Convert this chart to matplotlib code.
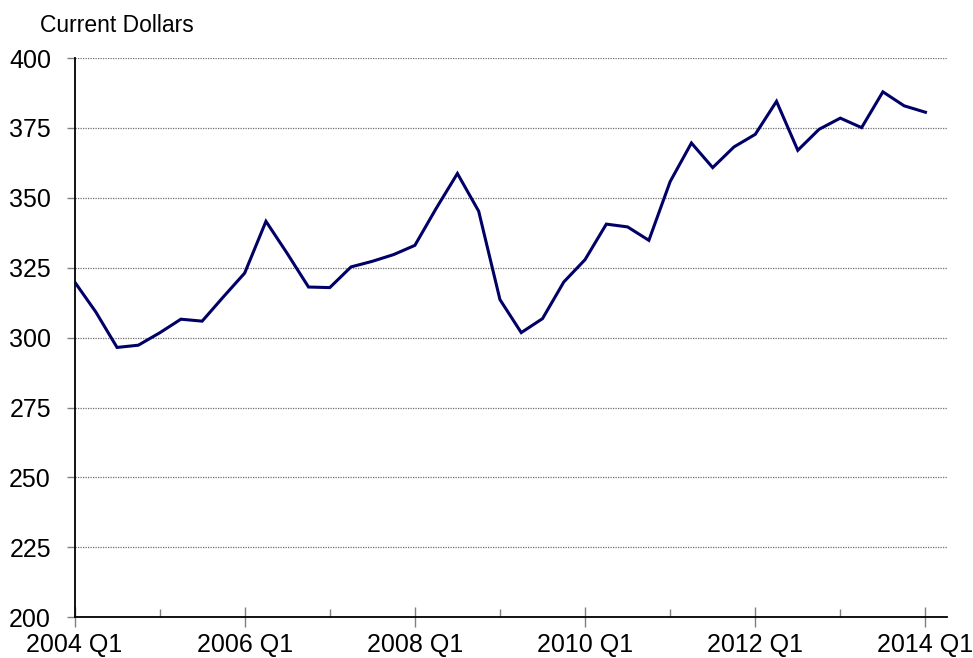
import numpy as np
import matplotlib
matplotlib.use('Agg')
import matplotlib.pyplot as plt
from matplotlib.ticker import MultipleLocator

plt.rcParams['font.family'] = ['Liberation Sans', 'DejaVu Sans']

# quarterly values, 2004 Q1 .. 2014 Q1
quarters = [f'{y} Q{q}' for y in range(2004, 2015) for q in range(1, 5)][:41]
values = [320.0, 309.2, 296.5, 297.3, 301.7, 306.6, 305.9, 314.6, 323.1, 341.6,
          330.1, 318.1, 317.9, 325.3, 327.3, 329.7, 333.0, 346.2, 358.7, 345.2,
          313.6, 301.8, 306.8, 319.9, 327.9, 340.6, 339.6, 334.8, 355.8, 369.6,
          360.8, 368.2, 372.7, 384.5, 367.0, 374.5, 378.5, 375.1, 387.9, 382.9,
          380.6]
yticks = [200, 225, 250, 275, 300, 325, 350, 375, 400]

fig = plt.figure(figsize=(9.73, 6.58), dpi=100)
ax = fig.add_axes([74.5/973, 1-617.3/658, (946.7-74.5)/973, (617.3-58)/658])

x = np.arange(len(values))
ax.plot(x, values, color='#000066', lw=2.2, solid_joinstyle='miter', zorder=3)

ax.set_xlim(0, 41)
ax.set_ylim(200, 400)
ax.set_yticks(yticks)
ax.yaxis.grid(True, linestyle=(0, (1, 1)), color='#6e6e6e', lw=0.9)
ax.set_axisbelow(True)

ax.set_xticks(x[::8])
ax.set_xticklabels([quarters[i] for i in x[::8]])
ax.xaxis.set_minor_locator(MultipleLocator(4))

for s in ['top', 'right']:
    ax.spines[s].set_visible(False)
for s in ['left', 'bottom']:
    ax.spines[s].set_linewidth(1.3)
    ax.spines[s].set_color('black')

ax.tick_params(axis='y', direction='out', length=6, width=1, color='#808080',
               labelsize=18, pad=11)
ax.tick_params(axis='x', which='major', direction='inout', length=14, width=1,
               color='#808080', labelsize=18, pad=4)
ax.tick_params(axis='x', which='minor', direction='in', length=6, width=1,
               color='#808080')

fig.text(40/973, 1-25/658, 'Current Dollars', fontsize=16.5, va='center', ha='left')

fig.savefig('out.png', dpi=100)
